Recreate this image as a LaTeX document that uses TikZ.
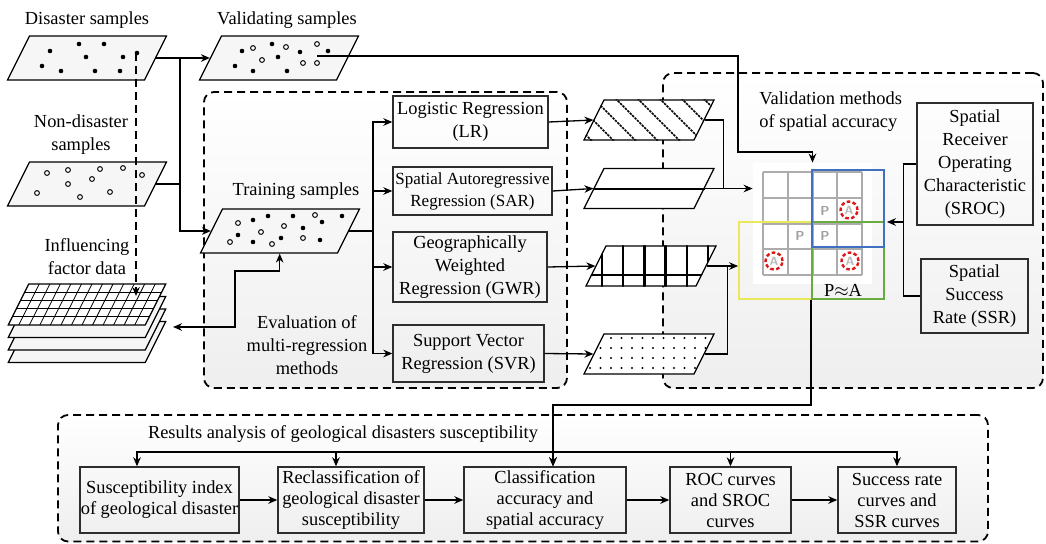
\documentclass[tikz,border=0pt]{standalone}
\usepackage{fontspec}
\setmainfont{Liberation Serif}
\usetikzlibrary{shapes, arrows.meta, positioning}
\definecolor{framegray}{RGB}{45, 45, 45}
\definecolor{accblue}{RGB}{66, 112, 192}
\definecolor{accyellow}{RGB}{232, 232, 90}
\definecolor{accgreen}{RGB}{104, 172, 64}
\definecolor{markred}{RGB}{222, 24, 24}

\begin{document}
\begin{tikzpicture}[
    x=0.5pt, y=-0.5pt,
    font=\fontsize{9.2}{11.5}\selectfont,
    groupbox/.style={
        draw=black,
        line width=0.9pt,
        dash pattern=on 4pt off 2.5pt,
        rounded corners=5pt,
        top color=white,
        bottom color=gray!13,
        inner sep=0pt
    },
    methodbox/.style={
        draw=framegray,
        line width=0.7pt,
        rectangle,
        align=center,
        inner sep=0.5pt
    },
    stepbox/.style={
        methodbox,
        minimum height=33pt,
        font=\fontsize{9.2}{10.5}\selectfont
    },
    samplemap/.style={
        draw,
        line width=0.6pt,
        fill=gray!7,
        xslant=0.5,
        transform shape,
        minimum width=68.5pt,
        minimum height=22pt,
        inner sep=0pt
    },
    datalayer/.style={samplemap, minimum height=20.5pt, fill=gray!8},
    resmap/.style={samplemap, minimum width=55pt, minimum height=20pt, fill=white},
    heading/.style={align=center, inner sep=1pt},
    frame/.style={line width=0.9pt, minimum width=36pt, minimum height=38.5pt, inner sep=0pt},
    cellline/.style={gray!65, line width=1pt},
    hatchline/.style={line width=0.8pt, dash pattern=on 1.2pt off 0.5pt},
    pmark/.style={font=\sffamily\bfseries\fontsize{6.5}{7}\selectfont, text=gray!75, inner sep=0pt},
    amark/.style={
        circle,
        draw=markred,
        line width=1.2pt,
        dash pattern=on 1.8pt off 1.2pt,
        minimum size=8.5pt,
        inner sep=0pt,
        text=gray!55,
        font=\sffamily\bfseries\fontsize{6}{6}\selectfont
    },
    link/.style={line width=0.65pt},
    arrow/.style={-{Stealth[length=4.5pt, width=3.8pt]}, line width=0.65pt},
    biarrow/.style={{Stealth[length=4.5pt, width=3.8pt]}-{Stealth[length=4.5pt, width=3.8pt]}, line width=0.65pt},
    dashline/.style={line width=0.9pt, dash pattern=on 4pt off 2.5pt}
]
    \useasboundingbox (0,0) rectangle (1046,543);

    % Group frames
    \node[groupbox, minimum width=181.5pt, minimum height=148pt] (evalbox) at (385.5,240) {};
    \node[groupbox, minimum width=190pt, minimum height=157.5pt] (spatbox) at (853,230.5) {};
    \node[groupbox, minimum width=465pt, minimum height=63.25pt] (resbox) at (523,478.25) {};

    % Samples and factor data
    \node[heading] (disname) at (87,20) {Disaster samples};
    \node[samplemap] (dis) at (87,58) {};
    \node[heading] (valname) at (287,20) {Validating samples};
    \node[samplemap] (val) at (279,58) {};
    \node[heading] (nonname) at (81,135) {Non-disaster\\samples};
    \node[samplemap] (non) at (87,184) {};
    \node[heading] (facname) at (87,257) {Influencing\\factor data};
    \foreach \k in {3,2,1}
        \node[datalayer] (fac\k) at (87,{304.5+12.5*\k}) {};
    \node[datalayer, fill=white] (fac0) at (87,304.5) {};
    \node[heading] (trainname) at (296,191) {Training samples};
    \node[samplemap] (train) at (280,231) {};

    % dots
    \begin{scope}[shift={(dis.center)}]
        \foreach \x/\y in {-37/-7, -8/-14, 17/-14, -1/-1, 36/-1, 50/-5, -45/8, -26/13, 8/13, 33/13}
            \fill (\x,\y) circle[radius=2.3];
    \end{scope}
    \begin{scope}[shift={(val.center)}]
        \foreach \x/\y in {-37/-7, -7/-14, -1/-1, 21/-6, 49/-7, -44/8, -26/13, 8/13}
            \fill (\x,\y) circle[radius=2.3];
        \foreach \x/\y in {-26/-10, 7/-11, -17/2, 38/-14, 24/5, 38/5}
            \draw[line width=0.5pt, fill=white] (\x,\y) circle[radius=2.4];
    \end{scope}
    \begin{scope}[shift={(non.center)}]
        \foreach \x/\y in {-40/-11, -19/-14, 13/-15, 36/-16, 55/-9, -19/0, 5/-5, 23/8, -50/9, -7/13}
            \draw[line width=0.5pt, fill=white] (\x,\y) circle[radius=2.4];
    \end{scope}
    \begin{scope}[shift={(train.center)}]
        \foreach \x/\y in {-27/-11, -12/-15, 13/-15, 42/-9, 62/-15, 23/-3, -42/4, -27/11, 1/7, 40/9}
            \fill (\x,\y) circle[radius=2.3];
        \foreach \x/\y in {-42/-8, -19/1, 4/-5, 35/-16, -50/11, -8/13, 23/7}
            \draw[line width=0.5pt, fill=white] (\x,\y) circle[radius=2.4];
    \end{scope}

    % raster on the top layer
    \begin{scope}[shift={(fac0.center)}, xslant=0.5]
        \foreach \i in {1,...,12}
            \draw[line width=0.4pt] ({-68.5+\i*137/13},-20.5) -- ++(0,41);
        \foreach \j in {1,...,4}
            \draw[line width=0.4pt] (-68.5,{-20.5+\j*8.2}) -- ++(137,0);
    \end{scope}

    % Regression methods
    \node[heading] (evalname) at (307,345) {Evaluation of\\multi-regression\\methods};
    \node[methodbox, minimum width=77.5pt, minimum height=26pt] (lr) at (470.5,122) {Logistic Regression\\(LR)};
    \node[methodbox, minimum width=79.5pt, minimum height=24pt, font=\fontsize{8.5}{11}\selectfont] (sar) at (472.5,191) {Spatial Autoregressive\\Regression (SAR)};
    \node[methodbox, minimum width=77pt, minimum height=35pt] (gwr) at (470,267) {Geographically\\Weighted\\Regression (GWR)};
    \node[methodbox, minimum width=75.5pt, minimum height=28.5pt] (svr) at (468.5,353.5) {Support Vector\\Regression (SVR)};

    % Result maps
    \node[resmap] (map-lr) at (649,120) {};
    \node[resmap] (map-sar) at (649,188.5) {};
    \node[resmap] (map-gwr) at (651,266) {};
    \node[resmap] (map-svr) at (649,354) {};

    \begin{scope}
        \clip (map-lr.north west) -- (map-lr.north east) -- (map-lr.south east) -- (map-lr.south west) -- cycle;
        \foreach \i in {-1,...,7}
            \draw[hatchline] ({569+22*\i},96) -- ++(50,50);
    \end{scope}
    \draw[line width=1pt] (map-sar.west) -- (map-sar.east);
    \begin{scope}
        \clip (map-gwr.north west) -- (map-gwr.north east) -- (map-gwr.south east) -- (map-gwr.south west) -- cycle;
        \foreach \i in {0,...,5}
            \draw[line width=1.2pt] ({602+21.2*\i},240) -- ++(0,52);
        \draw[line width=1.2pt] (580,275) -- (725,275);
    \end{scope}
    \begin{scope}
        \clip (map-svr.north west) -- (map-svr.north east) -- (map-svr.south east) -- (map-svr.south west) -- cycle;
        \foreach \i in {0,...,13}
            \foreach \j in {0,...,3}
                \fill ({590+10.5*\i},{338+10*\j}) circle[radius=1.1];
    \end{scope}

    % Spatial accuracy check
    \node[heading, align=left, anchor=west] (validname) at (757,112) {Validation methods\\of spatial accuracy};
    \node[fill=white, minimum width=59.5pt, minimum height=60.5pt, inner sep=0pt] (accgrid) at (812.5,223.5) {};
    \foreach \i in {0,...,4} {
        \draw[cellline] ({763+24.75*\i},172) -- ++(0,103);
        \draw[cellline] (763,{172+25.75*\i}) -- ++(99,0);
    }
    \node[pmark] (p1) at (825,211) {P};
    \node[pmark] (p2) at (800,236) {P};
    \node[pmark] (p3) at (825,236) {P};
    \node[amark] (a1) at (849,210) {A};
    \node[amark] (a2) at (774,261) {A};
    \node[amark] (a3) at (850,261) {A};
    \node[frame, draw=accyellow, minimum width=36.5pt] (ybox) at (775.5,260.5) {};
    \node[frame, draw=accgreen] (gbox) at (848,260.5) {};
    \node[frame, draw=accblue] (bbox) at (848,208.5) {};
    \node[heading] (papprox) at (843,290) {P$\approx$A};
    \node[methodbox, minimum width=58pt, minimum height=61pt] (sroc) at (975,164) {Spatial\\Receiver\\Operating\\Characteristic\\(SROC)};
    \node[methodbox, minimum width=53.5pt, minimum height=37pt] (ssr) at (974.5,296) {Spatial\\Success\\Rate (SSR)};

    % Result analysis
    \node[heading] (resname) at (343,434) {Results analysis of geological disasters susceptibility};
    \node[stepbox, minimum width=79.5pt] (sus) at (159.5,500) {Susceptibility index\\of geological disaster};
    \node[stepbox, minimum width=73pt] (rec) at (351,500) {Reclassification of\\geological disaster\\susceptibility};
    \node[stepbox, minimum width=81pt] (cls) at (545,500) {Classification\\accuracy and\\spatial accuracy};
    \node[stepbox, minimum width=60.5pt] (roc) at (730.5,500) {ROC curves\\and SROC\\curves};
    \node[stepbox, minimum width=59pt] (suc) at (897,500) {Success rate\\curves and\\SSR curves};

    % Helper points
    \coordinate (disdot) at (136,53);
    \coordinate (facdot) at (136,296);
    \coordinate (valdot) at (317,56);
    \coordinate (valbend) at (738,152);
    \coordinate (facin) at (173,327);
    \coordinate (evalbend) at (235,271);
    \coordinate (barL) at (137,452);
    \coordinate (barR) at (897,452);
    \path (train.east) ++(24,0) coordinate (fork);
    \path (sroc.west) ++(-13,58) coordinate (jn);

    % Edges
    \draw[arrow] (dis.east) -- (val.west);
    \draw[arrow] (dis.east) -- ++(24,0) |- (train.west);
    \draw[link] (non.east) -- ++(24,0);
    \draw[arrow, dashline] (disdot) -- (facdot);
    \draw[biarrow] (facin) -| (evalbend) -| ([xshift=5.5pt]train.south);
    \draw[link] (train.east) -- (fork);
    \foreach \m in {lr, sar, gwr, svr}
        \draw[arrow] (fork) |- (\m.west);
    \foreach \m in {lr, sar, gwr, svr}
        \draw[arrow] (\m.east) -- (map-\m.west);
    \draw[link] (map-lr.east) -- ++(19,0) -- ++(0,68.5);
    \draw[arrow] (map-sar.east) -- (map-sar.east -| accgrid.west);
    \draw[arrow] (map-gwr.east) -- (map-gwr.east -| ybox.west);
    \draw[link] (map-svr.east) -- ++(23,0) -- ++(0,-88);
    \draw[arrow] (valdot) -| (valbend) -| (accgrid.north);
    \draw[link] (sroc.west) -- ++(-13,0) |- (ssr.west);
    \draw[arrow, shorten >=1pt] (jn) -- (jn -| bbox.east);
    \draw[arrow] (gbox.south west) -- ++(0,105) -| ([xshift=4pt]cls.north);
    \draw[link] (barL) -- (barR);
    \foreach \b/\dx in {sus/-11.25, rec/-7.5, cls/4, roc/0, suc/0}
        \draw[arrow] ([xshift=\dx pt]\b.north) ++(0,-15) -- ([xshift=\dx pt]\b.north);
    \draw[arrow] (sus) -- (rec);
    \draw[arrow] (rec) -- (cls);
    \draw[arrow] (cls) -- (roc);
    \draw[arrow] (roc) -- (suc);

\end{tikzpicture}
\end{document}
